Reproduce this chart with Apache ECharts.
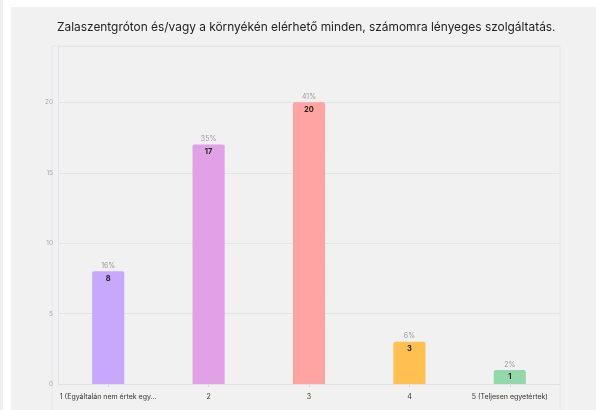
<!DOCTYPE html>
<html>
<head>
<meta charset="utf-8">
<script src="https://cdn.jsdelivr.net/npm/echarts@6/dist/echarts.min.js"></script>
<style>
  html, body { margin: 0; padding: 0; background: #fff; }
  #strip { position: absolute; left: 0; top: 0; width: 3px; height: 410px; background: #efefef; }
  #panel { position: absolute; left: 11px; top: 7px; width: 585px; height: 403px; background: #f1f1f1; }
  #main { position: absolute; left: 0; top: 0; width: 596px; height: 410px; }
</style>
</head>
<body>
<div id="strip"></div>
<div id="panel"></div>
<div id="main"></div>
<script>
var title = 'Zalaszentgróton és/vagy a környékén elérhető minden, számomra lényeges szolgáltatás.';
var categories = ['1 (Egyáltalán nem értek egy...', '2', '3', '4', '5 (Teljesen egyetértek)'];
var counts = [8, 17, 20, 3, 1];
var percents = ['16%', '35%', '41%', '6%', '2%'];
var colors = ['#c7a8fd', '#e2a1e6', '#ffa3a3', '#ffc04f', '#93d8a9'];

var myChart = echarts.init(document.getElementById('main'));

option = {
    backgroundColor: 'transparent',
    animation: false,
    title: {
        text: title,
        left: 57, top: 21,
        padding: 0,
        textStyle: { fontFamily: 'Inter', fontSize: 11.9, fontWeight: 'normal', color: '#222' }
    },
    graphic: [{
        type: 'rect',
        shape: { x: 52, y: 46, width: 508, height: 380 },
        style: { fill: 'none', stroke: '#e8e8ec', lineWidth: 1 },
        z: -1
    }],
    grid: { left: 58, right: 36, top: 46, bottom: 26 },
    xAxis: {
        type: 'category',
        data: categories,
        axisLine: { lineStyle: { color: '#e0e0e8' } },
        axisTick: { show: true, alignWithLabel: true, length: 3, lineStyle: { color: '#d8d8e0' } },
        axisLabel: { color: '#333', fontSize: 7, fontFamily: 'Inter', margin: 9, interval: 0 }
    },
    yAxis: {
        type: 'value',
        min: 0, max: 24, interval: 5,
        axisLine: { show: true, lineStyle: { color: '#e3e3ea' } },
        axisTick: { show: false },
        axisLabel: { color: '#aaa', fontSize: 6.5, fontFamily: 'Inter', margin: 5, showMaxLabel: false },
        splitLine: { lineStyle: { color: '#e3e3ea' } }
    },
    series: [
        {
            name: 'count',
            type: 'bar',
            data: counts.map(function (v, i) {
                return { value: v, itemStyle: { color: colors[i] } };
            }),
            barWidth: '32%',
            itemStyle: { borderRadius: [2, 2, 0, 0] },
            label: {
                show: true, position: 'insideTop', distance: 3,
                color: '#222', fontSize: 7.5, fontWeight: 'bold', fontFamily: 'Inter'
            },
            z: 3
        },
        {
            name: 'pct',
            type: 'bar',
            data: counts,
            barWidth: '32%',
            barGap: '-100%',
            itemStyle: { color: 'transparent' },
            label: {
                show: true, position: 'top', distance: 2,
                color: '#999', fontSize: 7, fontFamily: 'Inter',
                formatter: function (p) { return percents[p.dataIndex]; }
            },
            z: 2
        }
    ]
};

myChart.setOption(option);
window.addEventListener('resize', function () {
    myChart.resize();
});
</script>
</body>
</html>
